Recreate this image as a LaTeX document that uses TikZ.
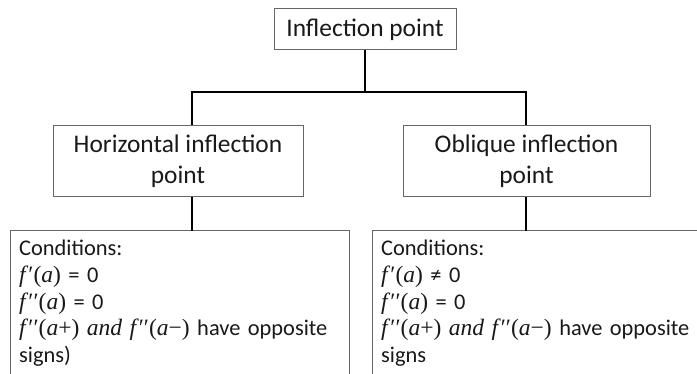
\documentclass[tikz,border=0pt]{standalone}
\usepackage{fontspec}
\setmainfont{Carlito}
\newfontfamily\cmath{Liberation Serif}
\newcommand\mx[1]{{\cmath\fontsize{23.5}{26.7}\selectfont #1}}
\newcommand\iv[1]{\textit{#1}}
\begin{document}
\begin{tikzpicture}[x=1pt,y=-1pt,
  box/.style={draw=black!60, line width=1pt, inner sep=0pt, text=black!90},
  boxline/.style={draw=black!60, line width=1pt},
  title/.style={box, font=\fontsize{25.4}{31}\selectfont, align=center},
  cond/.style={anchor=north west, font=\fontsize{22.4}{26.7}\selectfont, align=left, text=black!90,
    inner xsep=9pt, inner ysep=9pt, text width=321pt},
  conn/.style={draw=black, line width=1.5pt}]
\clip (0,0) rectangle (697,374);
\fill[white] (0,0) rectangle (697,374);
\node[title, minimum width=182pt, minimum height=41pt] (top) at (365,29.5) {Inflection point};
\node[title, minimum width=250pt, minimum height=71pt] (hor) at (178,161.5) {Horizontal inflection\\point};
\node[title, minimum width=247pt, minimum height=71pt] (obl) at (526.5,161.5) {Oblique inflection\\point};
\node[cond] (hcond) at (10,231) {Conditions:\\\mx{\iv{f}′(\iv{a})} = 0\\\mx{\iv{f}′′(\iv{a})} = 0\\\mx{\iv{f}′′(\iv{a}+) \iv{and} \iv{f}′′(\iv{a}−)} have opposite\\signs)};
\node[cond] (ocond) at (372,231) {Conditions:\\\mx{\iv{f}′(\iv{a})} ≠ 0\\\mx{\iv{f}′′(\iv{a})} = 0\\\mx{\iv{f}′′(\iv{a}+) \iv{and} \iv{f}′′(\iv{a}−)} have opposite\\signs};
\draw[boxline] ([yshift=-200pt]hcond.north west) -- (hcond.north west) -- (hcond.north east) -- ([yshift=-200pt]hcond.north east);
\draw[boxline] ([yshift=-200pt]ocond.north west) -- (ocond.north west) -- (ocond.north east) -- ([yshift=-200pt]ocond.north east);
\coordinate (barL) at (192,92);
\coordinate (barR) at (526,92);
\draw[conn] (top.south) -- (top.south |- barL);
\draw[conn] (hor.north -| barL) -- (barL) -- (barR) -- (obl.north -| barR);
\draw[conn] (hor.south -| barL) -- (hcond.north -| barL);
\draw[conn] (obl.south -| barR) -- (ocond.north -| barR);
\end{tikzpicture}
\end{document}
